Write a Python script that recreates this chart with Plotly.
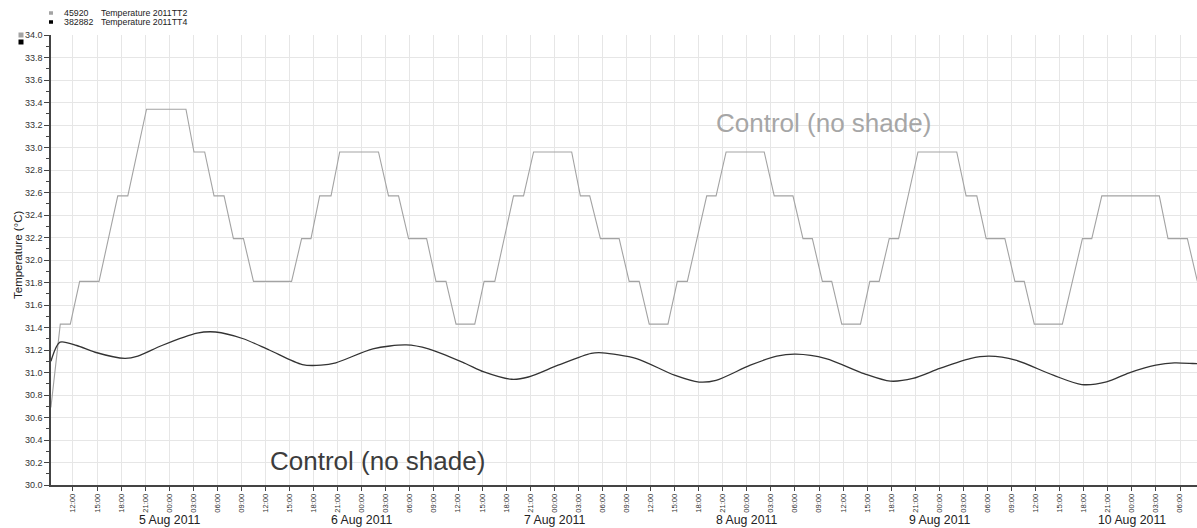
import plotly.graph_objects as go

# Temperature 2011TT2 (stepped logger readings)
tt2_time = [
    "2011-08-04 09:15", "2011-08-04 10:25", "2011-08-04 11:40", "2011-08-04 12:50",
    "2011-08-04 15:15", "2011-08-04 17:35", "2011-08-04 18:50", "2011-08-04 21:10",
    "2011-08-05 02:05", "2011-08-05 03:05", "2011-08-05 04:25", "2011-08-05 05:35",
    "2011-08-05 06:50", "2011-08-05 08:00", "2011-08-05 09:15", "2011-08-05 10:30",
    "2011-08-05 15:15", "2011-08-05 16:30", "2011-08-05 17:40", "2011-08-05 18:45",
    "2011-08-05 20:10", "2011-08-05 21:15", "2011-08-06 02:05", "2011-08-06 03:20",
    "2011-08-06 04:35", "2011-08-06 05:50", "2011-08-06 08:05", "2011-08-06 09:15",
    "2011-08-06 10:30", "2011-08-06 11:45", "2011-08-06 14:05", "2011-08-06 15:15",
    "2011-08-06 16:35", "2011-08-06 18:55", "2011-08-06 20:10", "2011-08-06 21:25",
    "2011-08-07 02:10", "2011-08-07 03:15", "2011-08-07 04:25", "2011-08-07 05:45",
    "2011-08-07 08:05", "2011-08-07 09:20", "2011-08-07 10:35", "2011-08-07 11:50",
    "2011-08-07 14:10", "2011-08-07 15:20", "2011-08-07 16:35", "2011-08-07 19:00",
    "2011-08-07 20:10", "2011-08-07 21:25", "2011-08-08 02:10", "2011-08-08 03:25",
    "2011-08-08 05:45", "2011-08-08 07:00", "2011-08-08 08:10", "2011-08-08 09:25",
    "2011-08-08 10:35", "2011-08-08 11:50", "2011-08-08 14:10", "2011-08-08 15:20",
    "2011-08-08 16:30", "2011-08-08 17:45", "2011-08-08 18:55", "2011-08-08 21:20",
    "2011-08-09 02:10", "2011-08-09 03:20", "2011-08-09 04:40", "2011-08-09 05:50",
    "2011-08-09 08:10", "2011-08-09 09:25", "2011-08-09 10:35", "2011-08-09 11:50",
    "2011-08-09 15:20", "2011-08-09 17:50", "2011-08-09 19:00", "2011-08-09 20:15",
    "2011-08-10 03:25", "2011-08-10 04:30", "2011-08-10 06:55", "2011-08-10 08:10",
]
tt2_temp = [
    30.69, 31.43, 31.43, 31.81,
    31.81, 32.57, 32.57, 33.34,
    33.34, 32.96, 32.96, 32.57,
    32.57, 32.19, 32.19, 31.81,
    31.81, 32.19, 32.19, 32.57,
    32.57, 32.96, 32.96, 32.57,
    32.57, 32.19, 32.19, 31.81,
    31.81, 31.43, 31.43, 31.81,
    31.81, 32.57, 32.57, 32.96,
    32.96, 32.57, 32.57, 32.19,
    32.19, 31.81, 31.81, 31.43,
    31.43, 31.81, 31.81, 32.57,
    32.57, 32.96, 32.96, 32.57,
    32.57, 32.19, 32.19, 31.81,
    31.81, 31.43, 31.43, 31.81,
    31.81, 32.19, 32.19, 32.96,
    32.96, 32.57, 32.57, 32.19,
    32.19, 31.81, 31.81, 31.43,
    31.43, 32.19, 32.19, 32.57,
    32.57, 32.19, 32.19, 31.81,
]

# Temperature 2011TT4 (smooth sensor)
tt4_time = [
    "2011-08-04 09:15", "2011-08-04 10:23", "2011-08-04 12:28", "2011-08-04 14:46",
    "2011-08-04 18:28", "2011-08-04 20:05", "2011-08-04 23:05", "2011-08-05 03:28",
    "2011-08-05 05:46", "2011-08-05 09:14", "2011-08-05 12:28", "2011-08-05 16:36",
    "2011-08-05 18:55", "2011-08-05 20:46", "2011-08-06 01:23", "2011-08-06 05:32",
    "2011-08-06 08:19", "2011-08-06 12:55", "2011-08-06 15:14", "2011-08-06 18:41",
    "2011-08-06 20:46", "2011-08-07 00:28", "2011-08-07 04:36", "2011-08-07 06:00",
    "2011-08-07 10:15", "2011-08-07 14:59", "2011-08-07 18:03", "2011-08-07 20:10",
    "2011-08-08 00:26", "2011-08-08 03:44", "2011-08-08 06:06", "2011-08-08 09:52",
    "2011-08-08 14:36", "2011-08-08 17:54", "2011-08-08 20:42", "2011-08-09 00:03",
    "2011-08-09 03:50", "2011-08-09 06:12", "2011-08-09 09:30", "2011-08-09 14:12",
    "2011-08-09 17:46", "2011-08-09 20:50", "2011-08-09 23:40", "2011-08-10 02:59",
    "2011-08-10 05:18", "2011-08-10 07:36", "2011-08-10 08:10",
]
tt4_temp = [
    31.10, 31.27, 31.24, 31.18,
    31.125, 31.145, 31.24, 31.35,
    31.36, 31.30, 31.20, 31.07,
    31.065, 31.086, 31.21, 31.245,
    31.21, 31.08, 31.005, 30.94,
    30.96, 31.065, 31.17, 31.175,
    31.124, 30.976, 30.915, 30.93,
    31.065, 31.145, 31.163, 31.124,
    30.99, 30.923, 30.947, 31.036,
    31.124, 31.145, 31.11, 30.976,
    30.893, 30.917, 30.997, 31.065,
    31.086, 31.08, 31.078,
]

legend_ids = ["45920", "382882"]
legend_names = ["Temperature 2011TT2", "Temperature 2011TT4"]
day_labels = ["5 Aug 2011", "6 Aug 2011", "7 Aug 2011", "8 Aug 2011", "9 Aug 2011", "10 Aug 2011"]
day_dates = ["2011-08-05", "2011-08-06", "2011-08-07", "2011-08-08", "2011-08-09", "2011-08-10"]

FONT = "Liberation Sans, Arial, sans-serif"
GRAY = "#a3a3a3"
DARK = "#333333"
SERIES_SWATCH = [GRAY, "#000000"]

fig = go.Figure()
fig.add_trace(go.Scatter(x=tt2_time, y=tt2_temp, mode="lines",
                         line=dict(color=GRAY, width=1.1), name=legend_names[0]))
fig.add_trace(go.Scatter(x=tt4_time, y=tt4_temp, mode="lines",
                         line=dict(color=DARK, width=1.3, shape="spline", smoothing=0.8),
                         name=legend_names[1]))

L, T, B = 51, 35, 43
W, H = 1197, 528
pw, ph = W - L, H - T - B


def px_x(px):
    return (px - L) / pw


def px_y(py):
    return (H - B - py) / ph


def swatch(cx, cy, w, h, col):
    return dict(type="rect", xref="paper", yref="paper",
                x0=px_x(cx - w / 2), x1=px_x(cx + w / 2),
                y0=px_y(cy + h / 2), y1=px_y(cy - h / 2),
                fillcolor=col, line=dict(width=0), layer="above")


shapes = []
annotations = []
# legend rows above the plot
for i, (sid, name, col) in enumerate(zip(legend_ids, legend_names, SERIES_SWATCH)):
    cy = 13 + 9 * i
    shapes.append(swatch(51, cy, 4, 3.5, col))
    yy = px_y(cy)
    annotations.append(dict(xref="paper", yref="paper", x=px_x(62), y=yy, text=sid,
                            showarrow=False, xanchor="left", yanchor="middle",
                            font=dict(size=8.8, color="#222222", family=FONT)))
    annotations.append(dict(xref="paper", yref="paper", x=px_x(99), y=yy, text=name,
                            showarrow=False, xanchor="left", yanchor="middle",
                            font=dict(size=8.8, color="#222222", family=FONT)))
# series swatches by the axis top
shapes.append(swatch(21, 35, 5, 5, GRAY))
shapes.append(swatch(21, 42, 5, 5, "#000000"))
# date labels under the hour ticks
for d, lab in zip(day_dates, day_labels):
    annotations.append(dict(xref="x", yref="paper", x=d, y=0, yshift=-42.5, text=lab,
                            showarrow=False, xanchor="center", yanchor="bottom",
                            borderpad=0,
                            font=dict(size=12.3, color="#222222", family=FONT)))
# axis title
annotations.append(dict(xref="paper", yref="paper", x=px_x(18), y=px_y(255),
                        text="Temperature (°C)", textangle=-90, showarrow=False,
                        xanchor="center", yanchor="middle",
                        font=dict(size=11.5, color="#222222", family=FONT)))
# series captions
annotations.append(dict(xref="paper", yref="paper", x=px_x(823), y=px_y(123),
                        text="Control (no shade)", showarrow=False,
                        xanchor="center", yanchor="middle",
                        font=dict(size=26, color="#a6a6a6", family=FONT)))
annotations.append(dict(xref="paper", yref="paper", x=px_x(377), y=px_y(461),
                        text="Control (no shade)", showarrow=False,
                        xanchor="center", yanchor="middle",
                        font=dict(size=26, color="#3c3c3c", family=FONT)))

fig.update_layout(
    width=W, height=H,
    margin=dict(l=L, r=0, t=T, b=B, pad=0),
    paper_bgcolor="white", plot_bgcolor="white",
    showlegend=False,
    font=dict(family=FONT, color="#333333"),
    annotations=annotations,
    shapes=shapes,
    xaxis=dict(
        type="date",
        range=["2011-08-04 09:15:36", "2011-08-10 08:07:00"],
        tick0="2011-08-04 12:00", dtick=3 * 3600 * 1000,
        tickformat="%H:%M", tickangle=-90,
        tickfont=dict(size=7.6, color="#333333", family=FONT),
        ticks="outside", ticklen=4, tickcolor="#444444",
        showgrid=True, gridcolor="#e6e6e6", gridwidth=1,
        showline=True, linecolor="#444444", linewidth=1.5,
        zeroline=False, fixedrange=True,
    ),
    yaxis=dict(
        range=[30, 34], dtick=0.2, tick0=30, tickformat=".1f",
        tickfont=dict(size=9, color="#333333", family=FONT),
        ticks="outside", ticklen=5, tickcolor="#444444",
        minor=dict(dtick=0.1, ticks="outside", ticklen=3, tickcolor="#444444", showgrid=False),
        showgrid=True, gridcolor="#e6e6e6", gridwidth=1,
        showline=True, linecolor="#444444", linewidth=1.5,
        zeroline=False, fixedrange=True,
    ),
)

fig.write_html("out.html")
